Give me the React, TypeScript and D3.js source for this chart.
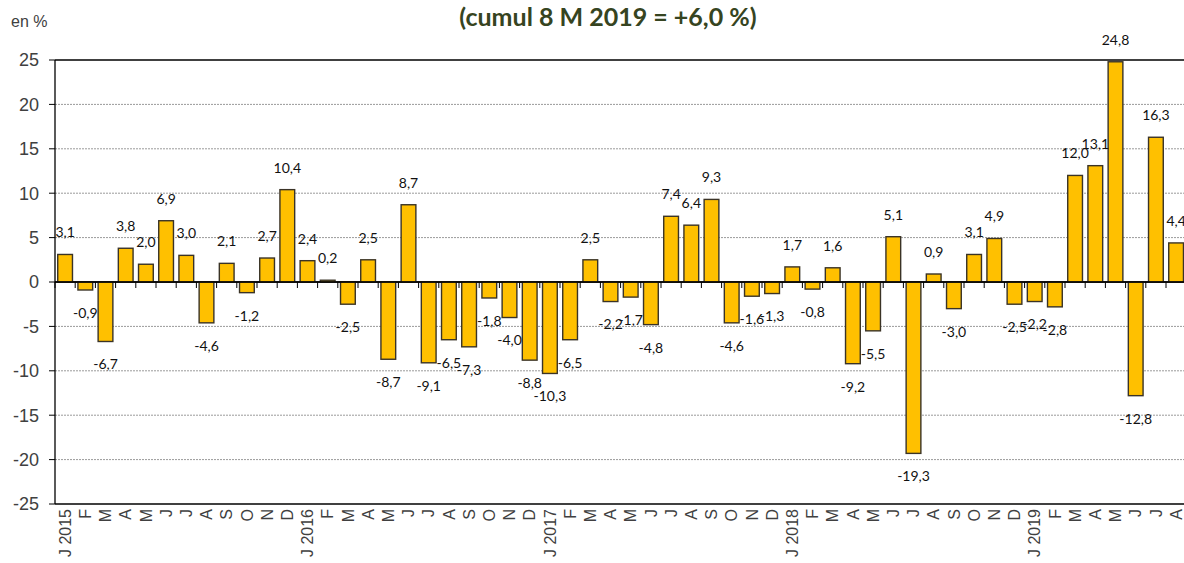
import React from "react";
import * as d3 from "d3";

const months: string[] = [
  "J 2015", "F", "M", "A", "M", "J", "J", "A", "S", "O", "N", "D",
  "J 2016", "F", "M", "A", "M", "J", "J", "A", "S", "O", "N", "D",
  "J 2017", "F", "M", "A", "M", "J", "J", "A", "S", "O", "N", "D",
  "J 2018", "F", "M", "A", "M", "J", "J", "A", "S", "O", "N", "D",
  "J 2019", "F", "M", "A", "M", "J", "J", "A",
];

const values: number[] = [
  3.1, -0.9, -6.7, 3.8, 2.0, 6.9, 3.0, -4.6, 2.1, -1.2, 2.7, 10.4,
  2.4, 0.2, -2.5, 2.5, -8.7, 8.7, -9.1, -6.5, -7.3, -1.8, -4.0, -8.8,
  -10.3, -6.5, 2.5, -2.2, -1.7, -4.8, 7.4, 6.4, 9.3, -4.6, -1.6, -1.3,
  1.7, -0.8, 1.6, -9.2, -5.5, 5.1, -19.3, 0.9, -3.0, 3.1, 4.9, -2.5,
  -2.2, -2.8, 12.0, 13.1, 24.8, -12.8, 16.3, 4.4,
];

const yTicks: number[] = [25, 20, 15, 10, 5, 0, -5, -10, -15, -20, -25];

const title = "(cumul 8 M 2019 = +6,0 %)";
const unitLabel = "en %";

const W = 1184;
const H = 563;
const left = 55;
const top = 60;
const bottom = 504;

export default function App() {
  const idx = months.map((_, i) => i);
  const x = d3
    .scaleBand<number>()
    .domain(idx)
    .range([left, left + 56 * 20.2])
    .paddingInner(0.27)
    .paddingOuter(0.135);
  const y = d3.scaleLinear().domain([-25, 25]).range([bottom, top]);
  const fmt = (v: number) => v.toFixed(1).replace(".", ",");
  const narrow = "'Liberation Sans Narrow', 'Liberation Sans', Arial, sans-serif";
  const step = x.step();

  return (
    <div style={{ position: "fixed", left: 0, top: 0 }}>
      <svg width={W} height={H} style={{ display: "block", background: "#fff" }}>
        <text
          x={608}
          y={26}
          textAnchor="middle"
          fontFamily="Lato, 'Open Sans', sans-serif"
          fontWeight="bold"
          fontSize={25}
          fill="#364421"
        >
          {title}
        </text>
        <text x={11} y={27} fontFamily={narrow} fontSize={16} fill="#404040">
          {unitLabel}
        </text>

        {/* gridlines */}
        {yTicks.map((t) => {
          const solid = t === 25 || t === -25 || t === 0;
          return (
            <line
              key={"g" + t}
              x1={left}
              x2={W}
              y1={y(t)}
              y2={y(t)}
              stroke={solid ? "#000" : "#9a9a9a"}
              strokeWidth={solid ? 1.3 : 1}
              strokeDasharray={solid ? undefined : "2 1"}
            />
          );
        })}

        {/* y axis */}
        <line x1={left} x2={left} y1={top} y2={bottom} stroke="#000" strokeWidth={1.3} />
        {yTicks.map((t) => (
          <g key={"yt" + t}>
            <line x1={left - 6} x2={left} y1={y(t)} y2={y(t)} stroke="#000" strokeWidth={1} />
            <text
              x={39}
              y={y(t)}
              dy="0.35em"
              textAnchor="end"
              fontFamily={narrow}
              fontSize={18}
              fill="#404040"
            >
              {t}
            </text>
          </g>
        ))}

        {/* bars */}
        {values.map((v, i) => {
          const y0 = y(Math.max(0, v));
          const y1 = y(Math.min(0, v));
          return (
            <rect
              key={"b" + i}
              x={x(i)}
              y={y0}
              width={x.bandwidth()}
              height={Math.max(1, y1 - y0)}
              fill="#FFC000"
              stroke="#3a3326"
              strokeWidth={1.4}
            />
          );
        })}

        {/* x axis ticks at zero line */}
        {idx.map((i) => {
          const bx = (x(i) as number) - (step - x.bandwidth()) / 2;
          return (
            <line key={"xt" + i} x1={bx} x2={bx} y1={y(0)} y2={y(0) + 6} stroke="#000" strokeWidth={1} />
          );
        })}
        <line x1={left} x2={W} y1={y(0)} y2={y(0)} stroke="#000" strokeWidth={1.3} />

        {/* data labels */}
        {values.map((v, i) => {
          const cx = (x(i) as number) + x.bandwidth() / 2;
          const cy = v >= 0 ? y(v) - 22 : y(v) + 23;
          return (
            <text
              key={"l" + i}
              x={cx}
              y={cy}
              dy="0.35em"
              textAnchor="middle"
              fontFamily="Lato, 'Open Sans', sans-serif"
              fontSize={14}
              fill="#111"
            >
              {fmt(v)}
            </text>
          );
        })}

        {/* x labels */}
        {months.map((m, i) => {
          const cx = (x(i) as number) + x.bandwidth() / 2;
          return (
            <text
              key={"xl" + i}
              transform={`translate(${cx},${bottom + 5}) rotate(-90)`}
              dy="0.35em"
              textAnchor="end"
              fontFamily={narrow}
              fontSize={16}
              fill="#404040"
            >
              {m}
            </text>
          );
        })}
      </svg>
    </div>
  );
}
